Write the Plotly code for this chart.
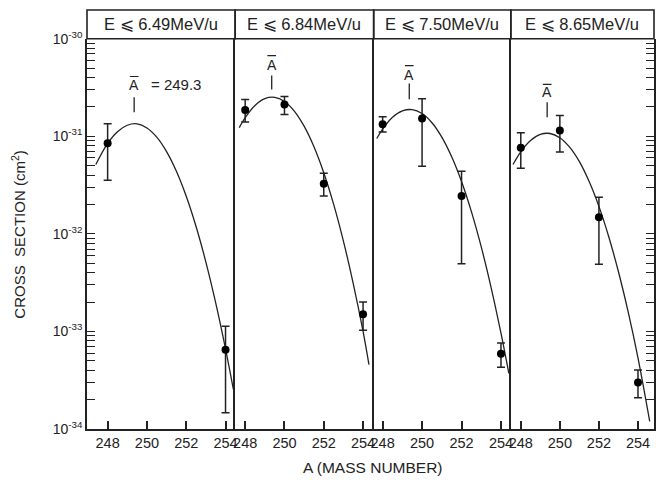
import plotly.graph_objects as go

# ---------------- data ----------------
mass_ticks = [248, 250, 252, 254]
panel_titles = ["E ⩽ 6.49MeV/u", "E ⩽ 6.84MeV/u", "E ⩽ 7.50MeV/u", "E ⩽ 8.65MeV/u"]
a_bar = 249.35          # centroid marker position (A-bar)
a_bar_label = "= 249.3"

# measured points (cross section, cm^2) with upper/lower error limits
p1_x = [248, 254]
p1_y = [8.5e-32, 6.5e-34]
p1_hi = [1.35e-31, 1.13e-33]
p1_lo = [3.55e-32, 1.47e-34]

p2_x = [248, 250, 252, 254]
p2_y = [1.86e-31, 2.12e-31, 3.26e-32, 1.50e-33]
p2_hi = [2.38e-31, 2.56e-31, 4.19e-32, 2.00e-33]
p2_lo = [1.40e-31, 1.67e-31, 2.44e-32, 1.03e-33]

p3_x = [248, 250, 252, 254]
p3_y = [1.33e-31, 1.52e-31, 2.44e-32, 5.9e-34]
p3_hi = [1.59e-31, 2.43e-31, 4.38e-32, 7.6e-34]
p3_lo = [1.11e-31, 4.93e-32, 4.93e-33, 4.3e-34]

p4_x = [248, 250, 252, 254]
p4_y = [7.64e-32, 1.15e-31, 1.48e-32, 3.0e-34]
p4_hi = [1.09e-31, 1.64e-31, 2.38e-32, 4.02e-34]
p4_lo = [4.70e-32, 6.89e-32, 4.88e-33, 2.09e-34]

# fitted curves
c1_x = [247.4, 248.0, 248.5, 249.0, 249.5, 250.0, 250.5, 251.0, 251.5, 252.0, 252.5, 253.0, 253.5, 254.0, 254.4]
c1_y = [5.15e-32, 8.47e-32, 1.117e-31, 1.30e-31, 1.343e-31, 1.22e-31, 9.82e-32, 6.98e-32, 4.38e-32,
        2.43e-32, 1.19e-32, 5.14e-33, 1.96e-33, 6.62e-34, 2.54e-34]

c2_x = [247.7, 248.0, 248.5, 249.0, 249.5, 250.0, 250.5, 251.0, 251.5, 252.0, 252.5, 253.0, 253.5, 254.0, 254.3]
c2_y = [1.23e-31, 1.556e-31, 2.075e-31, 2.438e-31, 2.512e-31, 2.278e-31, 1.816e-31, 1.271e-31, 7.83e-32,
        4.24e-32, 2.018e-32, 8.43e-33, 3.10e-33, 1.00e-33, 4.57e-34]

c3_x = [247.7, 248.0, 248.5, 249.0, 249.5, 250.0, 250.5, 251.0, 251.5, 252.0, 252.5, 253.0, 253.5, 254.0, 254.4]
c3_y = [9.51e-32, 1.189e-31, 1.567e-31, 1.824e-31, 1.879e-31, 1.712e-31, 1.379e-31, 9.82e-32, 6.17e-32,
        3.44e-32, 1.69e-32, 7.35e-33, 2.82e-33, 9.59e-34, 3.71e-34]

c4_x = [247.6, 248.0, 248.5, 249.0, 249.5, 250.0, 250.5, 251.0, 251.5, 252.0, 252.5, 253.0, 253.5, 254.0, 254.6]
c4_y = [5.14e-32, 6.95e-32, 9.06e-32, 1.047e-31, 1.069e-31, 9.68e-32, 7.74e-32, 5.50e-32, 3.44e-32,
        1.914e-32, 9.40e-33, 4.09e-33, 1.578e-33, 5.37e-34, 1.2e-34]

# y axis: decades (labelled) and minor positions 2..9 within each decade
y_decades = [-34, -33, -32, -31, -30]
y_decade_labels = ["10<sup>-34</sup>", "10<sup>-33</sup>", "10<sup>-32</sup>",
                   "10<sup>-31</sup>", "10<sup>-30</sup>"]
y_minor_digits = [2, 3, 4, 5, 6, 7, 8, 9]
y_range_exp = [-34, -30]

# ---------------- layout helpers ----------------
W, H = 656, 494
ML, MR, MT, MB = 87, 0, 7, 65
PH = H - MT - MB          # plot height in px
PW = W - ML - MR


def py(p):
    """pixel row -> paper y"""
    return (H - MB - p) / PH


ydom_top = py(36)
x_domains = [[0, 0.2613], [0.2613, 0.5056], [0.5056, 0.7475], [0.7475, 1.0]]
x_ranges = [[246.95, 254.49], [247.49, 254.54], [247.545, 254.5], [247.49, 254.82]]

INK = "#222222"
FONT = "Liberation Sans, Arial, sans-serif"

ytick_vals, ytick_text = [], []
for e, lab in zip(y_decades, y_decade_labels):
    ytick_vals.append(10.0 ** e)
    ytick_text.append(lab)
    if e < y_decades[-1]:
        for d in y_minor_digits:
            ytick_vals.append(d * 10.0 ** e)
            ytick_text.append("")

points = [(p1_x, p1_y, p1_hi, p1_lo), (p2_x, p2_y, p2_hi, p2_lo),
          (p3_x, p3_y, p3_hi, p3_lo), (p4_x, p4_y, p4_hi, p4_lo)]
curves = [(c1_x, c1_y), (c2_x, c2_y), (c3_x, c3_y), (c4_x, c4_y)]

fig = go.Figure()

for i in range(4):
    xa = "x" if i == 0 else f"x{i+1}"
    ya = "y" if i == 0 else f"y{i+1}"
    cx, cy = curves[i]
    fig.add_trace(go.Scatter(x=cx, y=cy, mode="lines", xaxis=xa, yaxis=ya,
                             line=dict(color=INK, width=1.3, shape="spline", smoothing=1.0),
                             hoverinfo="skip", showlegend=False))
    px_, py_, hi, lo = points[i]
    fig.add_trace(go.Scatter(
        x=px_, y=py_, mode="markers", xaxis=xa, yaxis=ya, showlegend=False,
        marker=dict(color="black", size=8),
        error_y=dict(type="data", symmetric=False,
                     array=[h - v for h, v in zip(hi, py_)],
                     arrayminus=[v - l for v, l in zip(py_, lo)],
                     color=INK, thickness=1.5, width=4)))

layout = dict(
    width=W, height=H,
    margin=dict(l=ML, r=MR, t=MT, b=MB),
    paper_bgcolor="white", plot_bgcolor="rgba(0,0,0,0)",
    font=dict(family=FONT, color=INK, size=14),
    showlegend=False,
)

for i in range(4):
    kx = "xaxis" if i == 0 else f"xaxis{i+1}"
    ky = "yaxis" if i == 0 else f"yaxis{i+1}"
    yname = "y" if i == 0 else f"y{i+1}"
    xname = "x" if i == 0 else f"x{i+1}"
    layout[kx] = dict(domain=x_domains[i], range=x_ranges[i], anchor=yname,
                      tickmode="array", tickvals=mass_ticks, ticks="inside", ticklen=8,
                      tickwidth=1.5, tickcolor=INK, showline=True, linecolor=INK, linewidth=1.6,
                      showgrid=False, zeroline=False, mirror=False,
                      tickfont=dict(size=14.5, family=FONT, color=INK))
    ydict = dict(type="log", range=y_range_exp, domain=[0, ydom_top], anchor=xname,
                 showgrid=False, zeroline=False, showline=True, linecolor=INK, linewidth=1.6)
    if i == 0:
        ydict.update(tickmode="array", tickvals=ytick_vals, ticktext=ytick_text,
                     ticks="inside", ticklen=8, tickwidth=1.4, tickcolor=INK,
                     tickfont=dict(size=14, family=FONT, color=INK))
    elif i == 3:
        ydict.update(side="right", mirror=True, tickmode="array", tickvals=ytick_vals,
                     ticktext=ytick_text, showticklabels=False,
                     ticks="inside", ticklen=8, tickwidth=1.4, tickcolor=INK)
    else:
        ydict.update(ticks="", showticklabels=False)
    layout[ky] = ydict

shapes = []
annotations = []
for i in range(4):
    xname = "x" if i == 0 else f"x{i+1}"
    shapes.append(dict(type="rect", xref=f"{xname} domain", yref="paper",
                       x0=0, x1=1, y0=ydom_top, y1=1,
                       line=dict(color=INK, width=1.6), fillcolor="rgba(0,0,0,0)"))
    annotations.append(dict(text=panel_titles[i], xref=f"{xname} domain", yref="paper",
                            x=0.5, y=(ydom_top + 1) / 2, xanchor="center", yanchor="middle",
                            showarrow=False, font=dict(size=16.5, family=FONT, color=INK)))

# A-bar markers (pixel rows of: overline, letter centre, tick top, tick bottom)
abar_rows = [(74, 83, 95, 110), (53, 62, 73, 87), (63, 72, 81, 97), (82, 90, 100, 115)]
for i in range(4):
    xname = "x" if i == 0 else f"x{i+1}"
    ov, lc, tt, tb = abar_rows[i]
    shapes.append(dict(type="line", xref=xname, yref="paper", x0=a_bar - 0.22, x1=a_bar + 0.22,
                       y0=py(ov), y1=py(ov), line=dict(color=INK, width=1.2)))
    shapes.append(dict(type="line", xref=xname, yref="paper", x0=a_bar, x1=a_bar,
                       y0=py(tt), y1=py(tb), line=dict(color=INK, width=1.3)))
    annotations.append(dict(text="A", xref=xname, yref="paper", x=a_bar, y=py(lc),
                            xanchor="center", yanchor="middle", showarrow=False,
                            font=dict(size=14, family=FONT, color=INK)))
annotations.append(dict(text=a_bar_label, xref="x", yref="paper", x=251.47, y=py(82),
                        xanchor="center", yanchor="middle", showarrow=False,
                        font=dict(size=15, family=FONT, color=INK)))

annotations.append(dict(text="CROSS  SECTION (cm<sup>2</sup>)", xref="paper", yref="paper",
                        x=(18 - ML) / PW, y=py(233), textangle=-90,
                        xanchor="center", yanchor="middle", showarrow=False,
                        font=dict(size=15, family=FONT, color=INK)))
annotations.append(dict(text="A (MASS NUMBER)", xref="paper", yref="paper",
                        x=(374 - ML) / PW, y=py(468), xanchor="center", yanchor="middle",
                        showarrow=False, font=dict(size=15.5, family=FONT, color=INK)))

layout["shapes"] = shapes
layout["annotations"] = annotations
fig.update_layout(**layout)

fig.write_html("out.html")
